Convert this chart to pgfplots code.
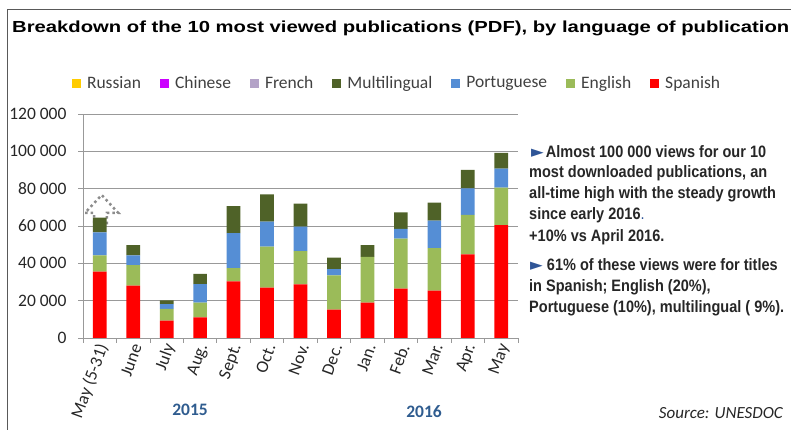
\documentclass[border=0pt]{standalone}
\usepackage{fontspec}
\usepackage{pgfplots}
\usepackage{pgfplotstable}
\usepackage{graphicx}
\pgfplotsset{compat=1.18}
\setmainfont{Carlito}
\newfontfamily\arial{Liberation Sans}
\newfontfamily\narrow[FakeStretch=0.88]{Liberation Sans}
\newfontfamily\dejavu{DejaVu Sans}
\definecolor{cSpa}{HTML}{FF0000}
\definecolor{cEng}{HTML}{9BBB59}
\definecolor{cPor}{HTML}{558ED5}
\definecolor{cMul}{HTML}{4F6228}
\definecolor{cFre}{HTML}{B3A2C7}
\definecolor{cChi}{HTML}{CC00FF}
\definecolor{cRus}{HTML}{FFCC00}
\definecolor{yearblue}{HTML}{2F5C8F}
\definecolor{arrowblue}{HTML}{2F5597}
\definecolor{txt}{HTML}{262626}
\definecolor{legtxt}{HTML}{404040}
\pgfplotstableread{
x S E P M
0 35600 8600 12400 7900
1 28100 10900 5200 5600
2 9300 6300 2500 2100
3 11100 7900 9800 5600
4 30400 7000 18800 14500
5 27000 21900 13400 14700
6 28700 17900 13000 12400
7 15200 18300 3400 6100
8 19000 24500 0 6300
9 26500 26700 5200 8900
10 25400 22800 14700 9600
11 44800 21100 14200 10000
12 60500 20100 10200 8400
}\datatable
\begin{document}
\begin{tikzpicture}[x=1pt,y=1pt]
\useasboundingbox (0,0) rectangle (791,430);
\draw[black!65, line width=1pt] (7,0) -- (7,420) -- (791,420);
\node[anchor=base west, inner sep=0pt] at (12,397) {\resizebox{777pt}{\height}{\fontsize{16}{18}\arial\bfseries Breakdown of the 10 most viewed publications (PDF), by language of publication}};
\begin{axis}[
  at={(83pt,92pt)}, anchor=south west,
  scale only axis, width=435pt, height=224pt,
  xmin=-0.5, xmax=12.5, ymin=0, ymax=120000,
  enlargelimits=false,
  scaled y ticks=false,
  ybar stacked, bar width=13.7pt,
  axis x line*=bottom, axis y line*=left,
  axis line style={black!40, line width=0.8pt},
  ymajorgrids, grid style={black!40, line width=0.8pt},
  ytick={0,20000,40000,60000,80000,100000,120000},
  yticklabels={0,20 000,40 000,60 000,80 000,100 000,120 000},
  yticklabel style={font=\fontsize{17.5}{20}\selectfont, text=txt, xshift=-8pt},
  y tick style={black!40, line width=0.8pt},
  major tick length=5pt, minor tick length=5pt, tick align=outside,
  xtick={0,...,12},
  xticklabels={May (5-31),June,July,Aug.,Sept.,Oct.,Nov.,Dec.,Jan.,Feb.,Mar.,Apr.,May},
  major x tick style={draw=none},
  minor xtick={-0.5,0.5,...,12.5},
  minor x tick style={black!40, line width=0.8pt},
  xticklabel style={rotate=70, anchor=east, font=\fontsize{17.5}{20}\selectfont, text=txt, xshift=3pt, yshift=-4pt},
  legend style={draw=none, fill=none, at={(0.722,1.138)}, anchor=center,
    legend columns=-1, font=\fontsize{17.5}{20}\selectfont, text=legtxt,
    /tikz/every even column/.append style={column sep=17pt}},
  legend cell align=left,
  reverse legend,
  legend image code/.code={\fill[#1] (0pt,-4.5pt) rectangle (9pt,4.5pt); \path (13pt,0pt);},
]
\addplot[fill=cSpa, draw=none] table[x=x, y=S] {\datatable};
\addplot[fill=cEng, draw=none] table[x=x, y=E] {\datatable};
\addplot[fill=cPor, draw=none] table[x=x, y=P] {\datatable};
\addplot[fill=cMul, draw=none] table[x=x, y=M] {\datatable};
\addlegendentry{Spanish}
\addlegendentry{English}
\addlegendentry{Portuguese}
\addlegendentry{Multilingual}
\addlegendimage{fill=cFre, draw=none}
\addlegendentry{French}
\addlegendimage{fill=cChi, draw=none}
\addlegendentry{Chinese}
\addlegendimage{fill=cRus, draw=none}
\addlegendentry{Russian}
\draw[black!45, line width=2.5pt, dash pattern=on 2.5pt off 3pt] (axis cs:-0.171,61600) -- (axis cs:-0.171,67000) -- (axis cs:-0.44,67000) -- (axis cs:0.059,76600) -- (axis cs:0.555,67000) -- (axis cs:0.217,67000) -- (axis cs:0.217,61600) -- cycle;
\end{axis}
\node[font=\fontsize{17.5}{20}\selectfont\bfseries, text=yearblue] at (190,20) {2015};
\node[font=\fontsize{17.5}{20}\selectfont\bfseries, text=yearblue] at (424,18) {2016};
\node[font=\fontsize{17}{20}\selectfont\itshape, text=txt, anchor=east, inner sep=0pt] at (783,17) {Source: UNESDOC};
\node[anchor=north west, inner sep=0pt, align=left, text=txt, font=\fontsize{16.5}{20.7}\selectfont\narrow\bfseries] at (529,285) {%
\hspace{2pt}{\dejavu\mdseries\textcolor{arrowblue}{►}}\hspace{2pt}Almost 100 000 views for our 10\\
most downloaded publications, an\\
all-time high with the steady growth\\
since early 2016{\mdseries\textcolor{arrowblue}{.}}\\[2pt]
+10\% vs April 2016.\\[8pt]
\hspace{1pt}{\dejavu\mdseries\textcolor{arrowblue}{►}} 61\% of these views were for titles\\
in Spanish; English (20\%),\\
Portuguese (10\%), multilingual ( 9\%).};
\end{tikzpicture}
\end{document}
